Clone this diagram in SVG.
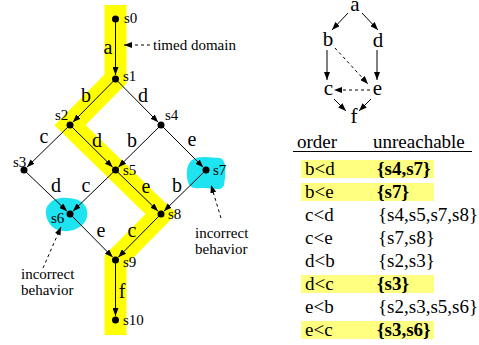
<svg xmlns="http://www.w3.org/2000/svg" width="479" height="345" viewBox="0 0 479 345">
<defs>
<style>
.nl{font-size:15px}
.el{font-size:20px;text-anchor:middle}
.hl{font-size:21px;text-anchor:middle}
.tb{font-size:19px}
.bd{font-weight:bold}
.e{stroke:#000;stroke-width:1;fill:none;marker-end:url(#ah)}
.d{stroke:#000;stroke-width:1;fill:none;stroke-dasharray:3,3;marker-end:url(#ah)}
.dot{fill:#000}
.blob{fill:#1ee3f0}
.hi{fill:#ffff80}
</style>
<marker id="ah" markerUnits="userSpaceOnUse" markerWidth="8" markerHeight="6" refX="8" refY="3" orient="auto">
<path d="M0,0 L8,3 L0,6 Z" fill="#000"/>
</marker>
</defs>
<rect width="479" height="345" fill="#fff"/>
<g font-family="Liberation Serif, serif" fill="#000">
<polyline points="115.5,5 115.5,79 70,125 161,214 115.5,260 115.5,335" fill="none" stroke="#ffff00" stroke-width="22" stroke-linejoin="miter"/>
<path class="blob" d="M192,160 C200,155 212,158 220,158 C227,160 226,175 224,185 C222,192 212,188 205,188 C198,188 190,190 188,182 C186,175 186,165 192,160 Z"/>
<path class="blob" d="M50,203 C56,196 70,197 78,200 C88,204 90,216 84,223 C78,230 68,233 58,230 C48,227 45,215 46,210 C47,206 48,205 50,203 Z"/>
<g id="connectors">
<line class="e" x1="115.5" y1="19" x2="115.5" y2="75"/>
<line class="e" x1="115.5" y1="79" x2="72.8" y2="122.2"/>
<line class="e" x1="115.5" y1="79" x2="158.2" y2="122.2"/>
<line class="e" x1="70" y1="125" x2="26.9" y2="167.2"/>
<line class="e" x1="70" y1="125" x2="112.7" y2="167.2"/>
<line class="e" x1="161" y1="125" x2="118.3" y2="167.2"/>
<line class="e" x1="161" y1="125" x2="203.2" y2="167.2"/>
<line class="e" x1="24" y1="170" x2="67.1" y2="211.2"/>
<line class="e" x1="115.5" y1="170" x2="72.9" y2="211.2"/>
<line class="e" x1="115.5" y1="170" x2="158.1" y2="211.2"/>
<line class="e" x1="206" y1="170" x2="163.9" y2="211.2"/>
<line class="e" x1="70" y1="214" x2="112.7" y2="257.2"/>
<line class="e" x1="161" y1="214" x2="118.3" y2="257.2"/>
<line class="e" x1="115.5" y1="260" x2="115.5" y2="316"/>
<text class="el" x="108" y="54">a</text>
<text class="el" x="86" y="102">b</text>
<text class="el" x="143" y="102">d</text>
<text class="el" x="44" y="143">c</text>
<text class="el" x="97" y="147">d</text>
<text class="el" x="132" y="147">b</text>
<text class="el" x="192" y="146">e</text>
<text class="el" x="56" y="192">d</text>
<text class="el" x="86" y="192">c</text>
<text class="el" x="146" y="193">e</text>
<text class="el" x="177" y="192">b</text>
<text class="el" x="101" y="237">e</text>
<text class="el" x="132" y="237">c</text>
<text class="el" x="122" y="298">f</text>
<line class="d" x1="150" y1="45" x2="124" y2="45"/>
<line class="d" x1="43" y1="268" x2="61" y2="227"/>
<line class="d" x1="221" y1="218" x2="211" y2="185"/>
</g>
<g id="s0"><circle class="dot" cx="115.5" cy="19" r="3.5"/><text class="nl" x="124" y="23">s0</text></g>
<g id="s1"><circle class="dot" cx="115.5" cy="79" r="3.5"/><text class="nl" x="123" y="81">s1</text></g>
<g id="s2"><circle class="dot" cx="70" cy="125" r="3.5"/><text class="nl" x="55" y="120">s2</text></g>
<g id="s4"><circle class="dot" cx="161" cy="125" r="3.5"/><text class="nl" x="165" y="120">s4</text></g>
<g id="s3"><circle class="dot" cx="24" cy="170" r="3.5"/><text class="nl" x="13" y="167">s3</text></g>
<g id="s5"><circle class="dot" cx="115.5" cy="170" r="3.5"/><text class="nl" x="123" y="175">s5</text></g>
<g id="s7"><circle class="dot" cx="206" cy="170" r="3.5"/><text class="nl" x="213" y="175">s7</text></g>
<g id="s6"><circle class="dot" cx="70" cy="214" r="3.5"/><text class="nl" x="51" y="223">s6</text></g>
<g id="s8"><circle class="dot" cx="161" cy="214" r="3.5"/><text class="nl" x="168" y="219">s8</text></g>
<g id="s9"><circle class="dot" cx="115.5" cy="260" r="3.5"/><text class="nl" x="123" y="267">s9</text></g>
<g id="s10"><circle class="dot" cx="115.5" cy="320" r="3.5"/><text class="nl" x="123" y="325">s10</text></g>
<g id="timed-domain"><text class="nl" x="153" y="50">timed domain</text></g>
<g id="incorrect-left"><text class="nl" x="21" y="279">incorrect</text><text class="nl" x="21" y="295">behavior</text></g>
<g id="incorrect-right"><text class="nl" x="195" y="238">incorrect</text><text class="nl" x="195" y="254">behavior</text></g>
<g id="hasse">
<g id="connectors-hasse">
<line class="e" x1="348" y1="13" x2="332" y2="30"/>
<line class="e" x1="362" y1="13" x2="378" y2="30"/>
<line class="e" x1="327" y1="50" x2="327" y2="80"/>
<line class="e" x1="377" y1="50" x2="377" y2="80"/>
<line class="d" x1="335" y1="48" x2="368" y2="84"/>
<line class="d" x1="370" y1="90" x2="334" y2="90"/>
<line class="e" x1="334" y1="99" x2="346" y2="111"/>
<line class="e" x1="371" y1="99" x2="359" y2="111"/>
</g>
<g id="ha"><text class="hl" x="355" y="10.5">a</text></g>
<g id="hb"><text class="hl" x="328" y="46">b</text></g>
<g id="hd"><text class="hl" x="378" y="47">d</text></g>
<g id="hc"><text class="hl" x="328.5" y="95">c</text></g>
<g id="he"><text class="hl" x="377.5" y="95">e</text></g>
<g id="hf"><text class="hl" x="354" y="123">f</text></g>
</g>
<g id="table">
<rect class="hi" x="301" y="160" width="133" height="18"/>
<rect class="hi" x="301" y="183" width="133" height="18"/>
<rect class="hi" x="301" y="275" width="133" height="18"/>
<rect class="hi" x="301" y="321" width="133" height="18"/>
<text class="tb" x="297" y="148">order</text>
<text class="tb" x="373" y="148">unreachable</text>
<line x1="293" y1="151.5" x2="472" y2="151.5" stroke="#000" stroke-width="1.2"/>
<text class="tb" x="305" y="175">b&lt;d</text><text class="tb bd" x="377" y="175">{s4,s7}</text>
<text class="tb" x="305" y="198">b&lt;e</text><text class="tb bd" x="377" y="198">{s7}</text>
<text class="tb" x="305" y="221">c&lt;d</text><text class="tb" x="378" y="221">{s4,s5,s7,s8}</text>
<text class="tb" x="305" y="244">c&lt;e</text><text class="tb" x="378" y="244">{s7,s8}</text>
<text class="tb" x="305" y="267">d&lt;b</text><text class="tb" x="378" y="267">{s2,s3}</text>
<text class="tb" x="305" y="290">d&lt;c</text><text class="tb bd" x="377" y="290">{s3}</text>
<text class="tb" x="305" y="313">e&lt;b</text><text class="tb" x="378" y="313">{s2,s3,s5,s6}</text>
<text class="tb" x="305" y="336">e&lt;c</text><text class="tb bd" x="377" y="336">{s3,s6}</text>
</g>
</g>
</svg>
